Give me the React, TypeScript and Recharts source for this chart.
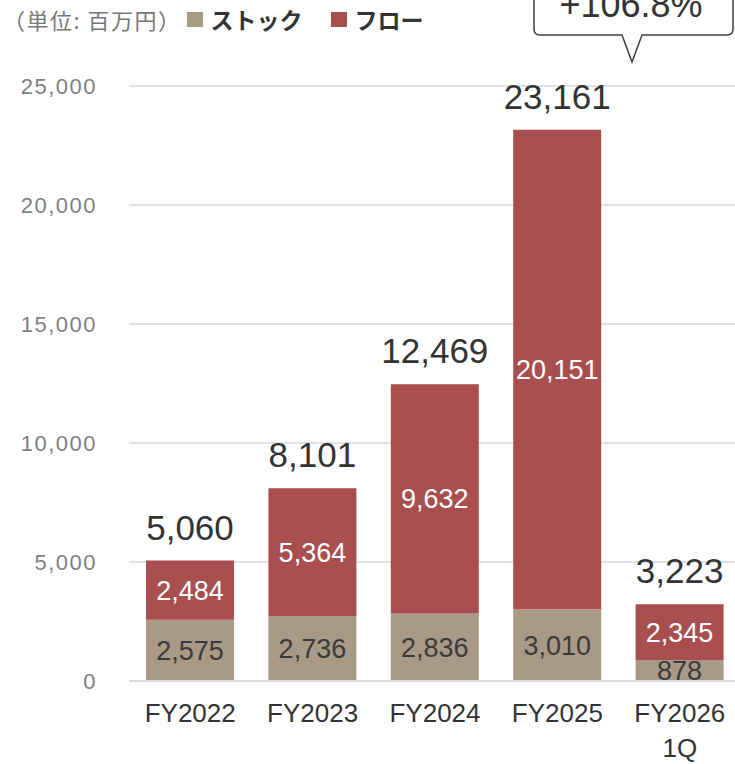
import { BarChart, Bar, XAxis, YAxis, CartesianGrid, LabelList, Legend } from 'recharts';

const categories = ['FY2022', 'FY2023', 'FY2024', 'FY2025', 'FY2026\n1Q'];
const stock = [2575, 2736, 2836, 3010, 878];
const flow = [2484, 5364, 9632, 20151, 2345];
const totals = [5060, 8101, 12469, 23161, 3223];
const yTicks = [0, 5000, 10000, 15000, 20000, 25000];
const unitLabel = '（単位: 百万円）';
const stockName = 'ストック';
const flowName = 'フロー';
const growthLabel = '+106.8%';

const STOCK_COLOR = '#A99987';
const FLOW_COLOR = '#A84E4E';
const NUM_FONT = '"Liberation Sans", Arial, sans-serif';
const JP_FONT = '"Noto Sans CJK JP", "Noto Sans", sans-serif';

const rows = categories.map((name, i) => ({ name, stock: stock[i], flow: flow[i], total: totals[i] }));

const fmt = (v: number) => v.toLocaleString('en-US');

const XTick = ({ x, y, payload }: any) => {
  const lines = String(payload.value).split('\n');
  return (
    <text x={x} y={y} textAnchor="middle" fill="#333" fontSize={26} fontFamily={NUM_FONT}>
      {lines.map((l, i) => (
        <tspan key={i} x={x} dy={i === 0 ? 41 : 35}>
          {l}
        </tspan>
      ))}
    </text>
  );
};

const TotalLabel = ({ x, y, width, value }: any) => (
  <text x={x + width / 2} y={y - 21} textAnchor="middle" fill="#333" fontSize={35} fontFamily={NUM_FONT}>
    {fmt(value)}
  </text>
);

const LegendBox = () => (
  <div style={{ display: 'flex', alignItems: 'center', fontFamily: JP_FONT, whiteSpace: 'nowrap' }}>
    <span style={{ color: '#777', fontSize: 22, letterSpacing: 1.5 }}>{unitLabel}</span>
    <span style={{ width: 16, height: 15, background: STOCK_COLOR, marginLeft: 5, marginRight: 8 }} />
    <span style={{ color: '#333', fontSize: 23, fontWeight: 700 }}>{stockName}</span>
    <span style={{ width: 16, height: 15, background: FLOW_COLOR, marginLeft: 28, marginRight: 8 }} />
    <span style={{ color: '#333', fontSize: 23, fontWeight: 700 }}>{flowName}</span>
  </div>
);

export default function App() {
  return (
    <div style={{ position: 'absolute', left: 0, top: 0, width: 735, height: 764, overflow: 'hidden', background: '#fff' }}>
      <BarChart width={745} height={764} data={rows} margin={{ top: 86, right: 4, left: 29, bottom: 3 }}>
        <CartesianGrid vertical={false} stroke="#d9d9d9" strokeWidth={1.5} />
        <XAxis
          dataKey="name"
          height={80}
          axisLine={{ stroke: '#d9d9d9', strokeWidth: 2 }}
          tickLine={false}
          tickSize={0}
          tickMargin={0}
          interval={0}
          tick={<XTick />}
        />
        <YAxis
          width={100}
          domain={[0, 25000]}
          ticks={yTicks}
          axisLine={false}
          tickLine={false}
          tickSize={0}
          tickMargin={32}
          tickFormatter={fmt}
          tick={{ fill: '#7f7f7f', fontSize: 22, fontFamily: NUM_FONT, letterSpacing: 1.5 }}
        />
        <Legend
          verticalAlign="middle"
          align="center"
          content={<LegendBox />}
          wrapperStyle={{ top: 2, left: 3, width: 520, height: 30 }}
        />
        <Bar dataKey="stock" stackId="a" fill={STOCK_COLOR} barSize={88} isAnimationActive={false}>
          <LabelList dataKey="stock" position="center" formatter={(v: any) => fmt(v)} fill="#3a3a3a" fontSize={27} fontFamily={NUM_FONT} />
        </Bar>
        <Bar dataKey="flow" stackId="a" fill={FLOW_COLOR} barSize={88} isAnimationActive={false}>
          <LabelList dataKey="flow" position="center" formatter={(v: any) => fmt(v)} fill="#fff" fontSize={27} fontFamily={NUM_FONT} />
          <LabelList dataKey="total" content={<TotalLabel />} />
        </Bar>
      </BarChart>
      <svg width={735} height={80} style={{ position: 'absolute', left: 0, top: 0 }}>
        <path
          d="M534,-10 L733,-10 L733,29 Q733,35 727,35 L642,35 L632,62 L622,35 L540,35 Q534,35 534,29 Z"
          fill="#fff"
          stroke="#404040"
          strokeWidth={1.5}
        />
        <text x={631} y={17} textAnchor="middle" fill="#333" fontSize={36} fontFamily={NUM_FONT}>
          {growthLabel}
        </text>
      </svg>
    </div>
  );
}
